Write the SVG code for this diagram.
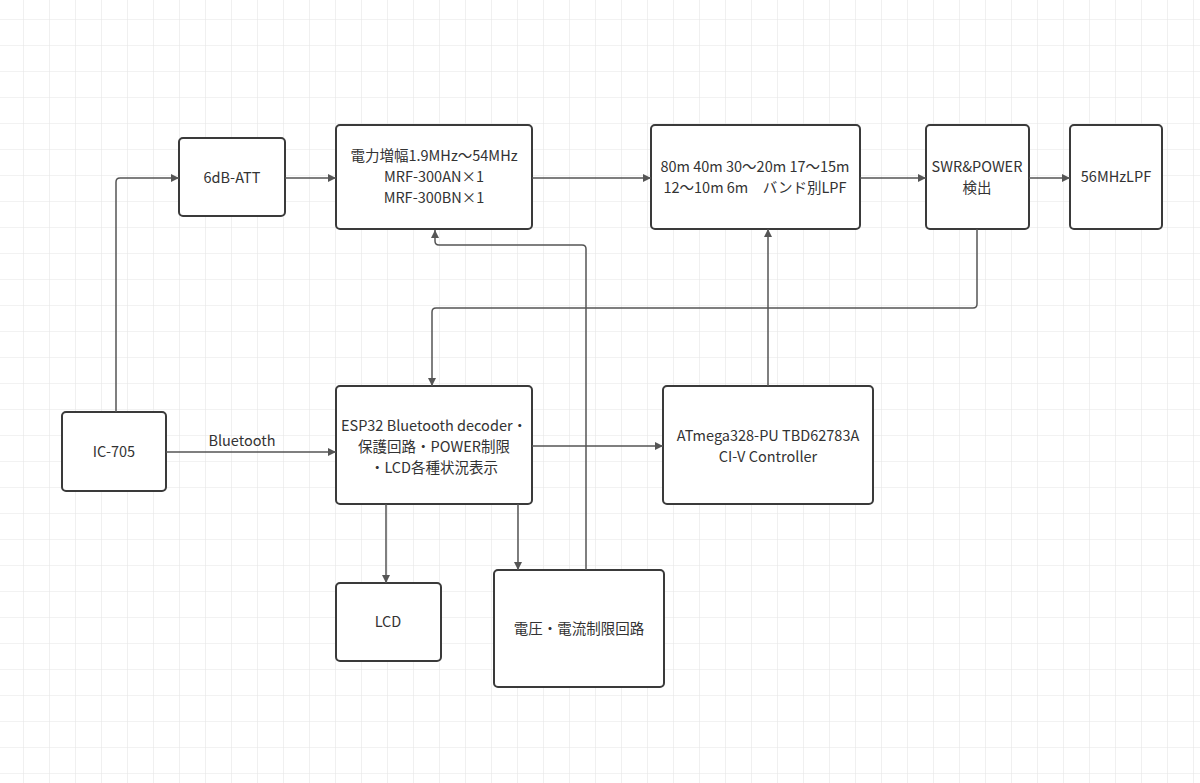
<svg xmlns="http://www.w3.org/2000/svg" width="1200" height="783" viewBox="0 0 1200 783">
<style>
.n rect{fill:#fff;stroke:#3a3a3a;stroke-width:2}
.n text{font-family:"Noto Sans CJK JP","Noto Sans",sans-serif;font-size:14.5px;fill:#333;text-anchor:middle}
.c path{fill:none;stroke:#555;stroke-width:1.5;marker-end:url(#a)}
.lbl{font-family:"Noto Sans CJK JP","Noto Sans",sans-serif;font-size:14.5px;fill:#333;text-anchor:middle}
</style>
<defs>
<pattern id="g" x="23" y="19" width="26" height="26" patternUnits="userSpaceOnUse">
<path d="M0 0H26M0 0V26" fill="none" stroke="#e6e6e6" stroke-width="1.2"/>
</pattern>
<marker id="a" viewBox="0 0 10 10" refX="10" refY="5" markerWidth="8" markerHeight="8" markerUnits="userSpaceOnUse" orient="auto"><path d="M0 0L10 5L0 10z" fill="#555"/></marker>
</defs>
<rect width="1200" height="783" fill="#fff"/>
<rect width="1200" height="783" fill="url(#g)"/>
<g id="nodes">
<g id="att" class="n"><rect x="179" y="138" width="106" height="78" rx="4"/><text x="232" y="183">6dB-ATT</text></g>
<g id="pa" class="n"><rect x="336" y="125" width="196" height="104" rx="4"/><text x="434" y="161">電力増幅1.9MHz～54MHz</text><text x="434" y="182">MRF-300AN×1</text><text x="434" y="203">MRF-300BN×1</text></g>
<g id="lpf" class="n"><rect x="651" y="125" width="209" height="104" rx="4"/><text x="755" y="172">80m 40m 30～20m 17～15m</text><text x="755" y="193">12～10m 6m　バンド別LPF</text></g>
<g id="swr" class="n"><rect x="926" y="125" width="103" height="104" rx="4"/><text x="977" y="172">SWR&amp;POWER</text><text x="977" y="193">検出</text></g>
<g id="lpf56" class="n"><rect x="1070" y="125" width="92" height="104" rx="4"/><text x="1116" y="182">56MHzLPF</text></g>
<g id="ic705" class="n"><rect x="62" y="412" width="104" height="79" rx="4"/><text x="114" y="457">IC-705</text></g>
<g id="esp" class="n"><rect x="336" y="386" width="196" height="118" rx="4"/><text x="434" y="431">ESP32 Bluetooth decoder・</text><text x="434" y="452">保護回路・POWER制限</text><text x="434" y="473">・LCD各種状況表示</text></g>
<g id="atm" class="n"><rect x="663" y="386" width="210" height="118" rx="4"/><text x="768" y="441">ATmega328-PU TBD62783A</text><text x="768" y="462">CI-V Controller</text></g>
<g id="lcd" class="n"><rect x="336" y="583" width="105" height="78" rx="4"/><text x="388" y="627">LCD</text></g>
<g id="volt" class="n"><rect x="494" y="570" width="170" height="117" rx="4"/><text x="579" y="634">電圧・電流制限回路</text></g>
</g>
<g class="c">
<path d="M116 412V182Q116 178 120 178H179"/>
<path d="M285 178H336"/>
<path d="M532 178H651"/>
<path d="M860 178H926"/>
<path d="M1029 178H1070"/>
<path d="M977 229V304Q977 308 973 308H436Q432 308 432 312V386"/>
<path d="M166 452H336"/>
<path d="M532 446H663"/>
<path d="M768 386V229"/>
<path d="M386 504V583"/>
<path d="M518 504V570"/>
<path d="M586 570V249Q586 245 582 245H439Q435 245 435 241V230"/>
</g>
<text class="lbl" x="242" y="446">Bluetooth</text>
</svg>
